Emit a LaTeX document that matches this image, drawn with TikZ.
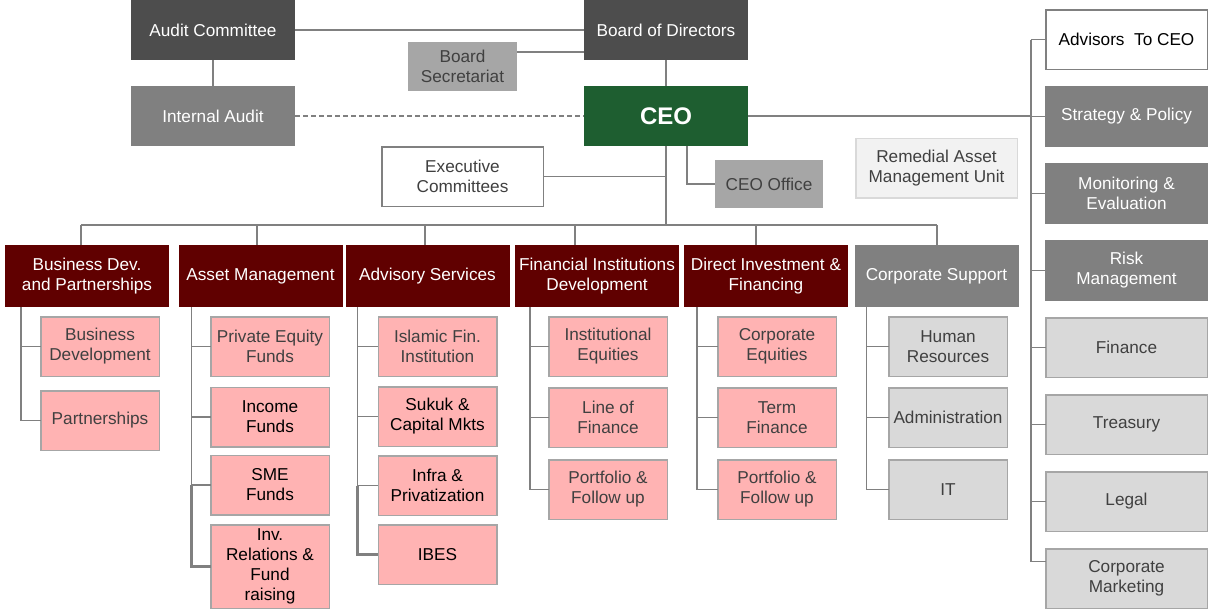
\documentclass[tikz,border=0pt]{standalone}
\usepackage{fontspec}
\setmainfont{Liberation Sans}
\usepackage{tikz}
\usetikzlibrary{positioning, calc}
\definecolor{boardgray}{RGB}{77, 77, 77}
\definecolor{unitgray}{RGB}{128, 128, 128}
\definecolor{staffgray}{RGB}{166, 166, 166}
\definecolor{ceogreen}{RGB}{30, 94, 48}
\definecolor{deptred}{RGB}{96, 0, 0}
\definecolor{sectionpink}{RGB}{255, 179, 179}
\definecolor{supportgray}{RGB}{217, 217, 217}
\definecolor{palegray}{RGB}{242, 242, 242}
\definecolor{ink}{RGB}{64, 64, 64}

\begin{document}
\begin{tikzpicture}[x=1pt, y=-1pt,
    base/.style={rectangle, inner sep=2pt, outer sep=0pt, align=center, font=\fontsize{17.2}{20}\selectfont},
    topbox/.style={base, fill=boardgray, text=white, minimum width=164pt, minimum height=60pt},
    graybox/.style={base, fill=unitgray, text=white, minimum width=164pt, minimum height=60pt},
    staffbox/.style={base, fill=staffgray, text=ink},
    ceobox/.style={base, fill=ceogreen, text=white, minimum width=164pt, minimum height=60pt, font=\fontsize{24}{28}\selectfont\bfseries},
    openbox/.style={base, fill=white, draw=unitgray, line width=1.5pt, text=ink, minimum width=161.5pt, minimum height=59.5pt},
    deptbox/.style={base, fill=deptred, text=white, minimum width=164pt, minimum height=62pt},
    sectionbox/.style={base, fill=sectionpink, draw=staffgray, line width=1.5pt, text=ink, minimum width=118.5pt, minimum height=59.5pt},
    supportbox/.style={base, fill=supportgray, draw=staffgray, line width=1.5pt, text=ink, minimum width=118.5pt, minimum height=59.5pt},
    sidebox/.style={base, fill=unitgray, text=white, minimum width=163pt, minimum height=61pt},
    sidelight/.style={supportbox, minimum width=161.5pt},
    link/.style={draw=unitgray, line width=1.6pt},
    heavylink/.style={link, line width=2.6pt}
]
    \useasboundingbox (0,0) rectangle (1212,611);

    % Board level
    \node[topbox] (audit) at (213,30) {Audit Committee};
    \node[topbox] (board) at (666,30) {Board of Directors};
    \node[graybox, below=26pt of audit] (intaudit) {Internal Audit};
    \node[ceobox, below=26pt of board] (ceo) {CEO};
    \node[staffbox, minimum width=109pt, minimum height=49pt] (secr) at (462.5,66.5) {Board\\Secretariat};
    \node[openbox] (exec) at (462.5,176.5) {Executive\\Committees};
    \node[staffbox, minimum width=108pt, minimum height=48pt] (office) at (769,184) {CEO Office};
    \node[openbox, fill=palegray, draw=supportgray] (remedial) at (936.5,168) {Remedial Asset\\Management Unit};

    % Departments
    \node[deptbox] (bdp) at (87,276) {Business Dev.\\and Partnerships};
    \node[deptbox] (am) at (260.5,276) {Asset Management};
    \node[deptbox] (adv) at (427.5,276) {Advisory Services};
    \node[deptbox] (fid) at (597,276) {Financial Institutions\\Development};
    \node[deptbox] (dif) at (766,276) {Direct Investment \&\\Financing};
    \node[deptbox, fill=unitgray] (cs) at (936.5,276) {Corporate Support};

    % Sections
    \node[sectionbox, below=9.75pt of bdp.south, xshift=13pt] (busdev) {Business\\Development};
    \node[sectionbox, below=14.5pt of busdev] (partner) {Partnerships};

    \node[sectionbox, below=9.75pt of am.south, xshift=9.5pt] (pef) {Private Equity\\Funds};
    \node[sectionbox, below=11pt of pef, text=black] (income) {Income\\Funds};
    \node[sectionbox, below=8.5pt of income, text=black] (sme) {SME\\Funds};
    \node[sectionbox, below=10pt of sme, text=black, minimum height=83.5pt] (invrel) {Inv.\\Relations \&\\Fund\\raising};

    \node[sectionbox, below=9.75pt of adv.south, xshift=10pt] (islamic) {Islamic Fin.\\Institution};
    \node[sectionbox, below=10.5pt of islamic, text=black] (sukuk) {Sukuk \&\\Capital Mkts};
    \node[sectionbox, below=9.5pt of sukuk, text=black] (infra) {Infra \&\\Privatization};
    \node[sectionbox, below=9.5pt of infra, text=black] (ibes) {IBES};

    \node[sectionbox, below=9.75pt of fid.south, xshift=11pt] (insteq) {Institutional\\Equities};
    \node[sectionbox, below=11.5pt of insteq] (lof) {Line of\\Finance};
    \node[sectionbox, below=12.5pt of lof] (fiport) {Portfolio \&\\Follow up};

    \node[sectionbox, below=9.75pt of dif.south, xshift=11pt] (corpeq) {Corporate\\Equities};
    \node[sectionbox, below=11.5pt of corpeq] (term) {Term\\Finance};
    \node[sectionbox, below=12.5pt of term] (diport) {Portfolio \&\\Follow up};

    \node[supportbox, below=9.75pt of cs.south, xshift=11.5pt] (hr) {Human\\Resources};
    \node[supportbox, below=11.5pt of hr] (admin) {Administration};
    \node[supportbox, below=12.5pt of admin] (it) {IT};

    % Units reporting on the right
    \node[openbox, text=black] (advisors) at (1126.5,39.5) {Advisors\ \ To CEO};
    \node[sidebox, below=16.75pt of advisors] (strategy) {Strategy \& Policy};
    \node[sidebox, below=16pt of strategy] (monitor) {Monitoring \&\\Evaluation};
    \node[sidebox, below=16pt of monitor] (risk) {Risk\\Management};
    \node[sidelight, below=16.75pt of risk] (finance) {Finance};
    \node[sidelight, below=17.5pt of finance] (treasury) {Treasury};
    \node[sidelight, below=17.5pt of treasury] (legal) {Legal};
    \node[sidelight, below=17.5pt of legal] (marketing) {Corporate\\Marketing};

    % Reporting lines
    \draw[link] (audit) -- (board);
    \draw[link] (audit) -- (intaudit);
    \draw[link] (board) -- (ceo);
    \draw[link, dash pattern=on 5pt off 3pt] (intaudit) -- (ceo);
    \coordinate (secrtie) at ([yshift=14.5pt]secr.east);
    \draw[link] (secrtie) -- (secrtie -| board.west);
    \draw[link] (exec) -- (exec -| ceo.south);
    \draw[link] ([xshift=21pt]ceo.south) |- (office);

    \coordinate (drop1) at (81,225);
    \coordinate (drop2) at (257,225);
    \coordinate (drop3) at (425,225);
    \coordinate (drop4) at (575,225);
    \coordinate (drop5) at (756,225);
    \coordinate (drop6) at (937,225);
    \draw[link] (ceo) -- (ceo |- drop1);
    \draw[link] (drop1) -- (drop6);
    \draw[link] (drop1) -- (drop1 |- bdp.north);
    \draw[link] (drop2) -- (drop2 |- am.north);
    \draw[link] (drop3) -- (drop3 |- adv.north);
    \draw[link] (drop4) -- (drop4 |- fid.north);
    \draw[link] (drop5) -- (drop5 |- dif.north);
    \draw[link] (drop6) -- (drop6 |- cs.north);

    \coordinate (bdptie) at ([xshift=16pt]bdp.south west);
    \draw[link] (bdptie) |- (busdev.west);
    \draw[link] (bdptie) |- (partner.west);

    \coordinate (amtie) at ([xshift=13pt]am.south west);
    \draw[link] (amtie) |- (pef.west);
    \draw[link] (amtie) |- (income.west);
    \draw[link] (amtie) |- (sme.west);
    \draw[heavylink] (amtie |- sme.west) |- (invrel.west);

    \coordinate (advtie) at ([xshift=12pt]adv.south west);
    \draw[link] (advtie) |- (islamic.west);
    \draw[link] (advtie) |- (sukuk.west);
    \draw[link] (advtie) |- (infra.west);
    \draw[heavylink] (advtie |- infra.west) |- (ibes.west);

    \coordinate (fidtie) at ([xshift=15pt]fid.south west);
    \draw[link] (fidtie) |- (insteq.west);
    \draw[link] (fidtie) |- (lof.west);
    \draw[link] (fidtie) |- (fiport.west);

    \coordinate (diftie) at ([xshift=13pt]dif.south west);
    \draw[link] (diftie) |- (corpeq.west);
    \draw[link] (diftie) |- (term.west);
    \draw[link] (diftie) |- (diport.west);

    \coordinate (cstie) at ([xshift=12pt]cs.south west);
    \draw[link] (cstie) |- (hr.west);
    \draw[link] (cstie) |- (admin.west);
    \draw[link] (cstie) |- (it.west);

    \coordinate (rbus) at (1031,0);
    \coordinate (mktgtie) at ([yshift=17pt]marketing.west);
    \draw[link] (ceo) -- (ceo -| rbus);
    \draw[link] (advisors -| rbus) -- (mktgtie -| rbus);
    \draw[link] (advisors) -- (advisors -| rbus);
    \draw[link] (strategy) -- (strategy -| rbus);
    \draw[link] (monitor) -- (monitor -| rbus);
    \draw[link] (risk) -- (risk -| rbus);
    \draw[link] (finance) -- (finance -| rbus);
    \draw[link] (treasury) -- (treasury -| rbus);
    \draw[link] (legal) -- (legal -| rbus);
    \draw[link] (mktgtie) -- (mktgtie -| rbus);
\end{tikzpicture}
\end{document}
